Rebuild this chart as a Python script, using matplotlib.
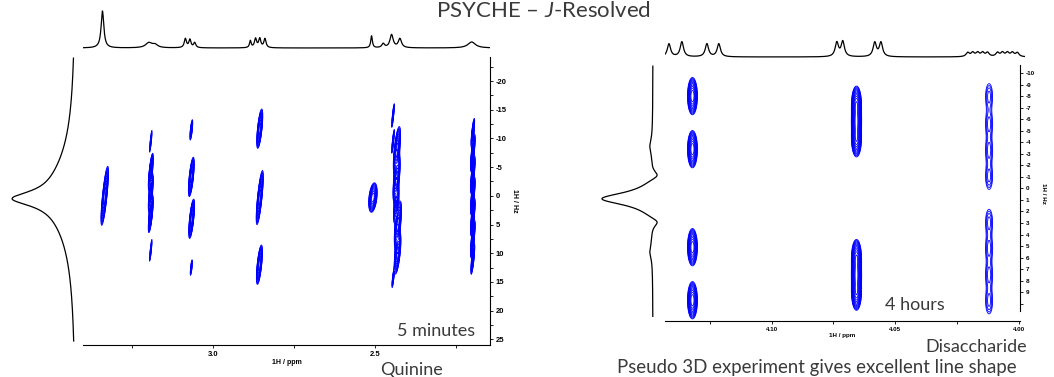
import numpy as np
import matplotlib.pyplot as plt
from matplotlib.ticker import MultipleLocator, FixedLocator, FormatStrFormatter

plt.rcParams['font.family'] = ['Lato', 'DejaVu Sans']
plt.rcParams['mathtext.fontset'] = 'custom'
plt.rcParams['mathtext.it'] = 'Lato:italic'
plt.rcParams['mathtext.rm'] = 'Lato'
plt.rcParams['axes.unicode_minus'] = False

# ---- quinine, 2D peaks (ppm, Hz, intensity, ppm sigma, Hz sigma)
q_ppm = [3.333, 3.191, 3.191, 3.191, 3.191, 3.191, 3.066, 3.066, 3.065, 3.066,
         2.855, 2.855, 2.856, 2.506, 2.444, 2.444, 2.432, 2.433, 2.434, 2.429,
         2.430, 2.444, 2.198, 2.198, 2.198, 2.198, 2.198, 2.198, 2.198]
q_hz = [0.0, -9.5, -4.2, -0.5, 3.2, 9.5, -11.5, -3.3, 4.0, 12.5,
        -11.7, 0.3, 12.0, 0.3, -14.0, -9.5, -8.0, -3.0, 1.5, 5.0,
        10.0, 14.5, -11.0, -7.5, -3.7, 0.0, 3.7, 7.5, 11.0]
q_amp = [1.0, 0.25, 1.0, 1.0, 1.0, 0.25, 0.3, 1.0, 1.0, 0.25,
         1.0, 1.0, 1.0, 1.0, 0.3, 0.3, 1.0, 1.0, 0.7, 1.0,
         1.0, 0.3, 0.4, 1.0, 1.0, 1.0, 1.0, 1.0, 0.5]
q_sppm = [0.0033, 0.0014, 0.0024, 0.0024, 0.0024, 0.0014, 0.0021, 0.0031, 0.0031, 0.0017,
          0.0033, 0.0033, 0.0033, 0.0058, 0.0014, 0.0014, 0.0040, 0.0040, 0.0032, 0.0040,
          0.0038, 0.0014, 0.0021, 0.0021, 0.0021, 0.0021, 0.0021, 0.0021, 0.0021]
q_shz = [2.4, 1.4, 1.5, 1.5, 1.5, 1.4, 1.2, 1.6, 1.6, 1.0,
         1.6, 2.2, 1.6, 1.2, 1.4, 1.4, 1.9, 1.9, 1.6, 1.9,
         1.7, 1.0, 1.5, 1.5, 1.5, 1.5, 1.5, 1.5, 1.5]
q_tilt = 0.0018

# quinine 1D projections (position, height, half width)
qtop_ppm = [3.340, 3.197, 3.178, 3.0844, 3.0704, 3.0556, 2.884, 2.868, 2.855, 2.839,
            2.5102, 2.4743, 2.4485, 2.4228, 2.2016]
qtop_h = [37, 5, 3, 9, 8, 5, 7, 9, 9, 9, 12, 4, 13, 9, 6]
qtop_w = [0.005, 0.012, 0.010, 0.004, 0.004, 0.004, 0.003, 0.004, 0.004, 0.004,
          0.003, 0.005, 0.006, 0.006, 0.014]
qside_hz = [0.5, 0.0]
qside_h = [40, 24]
qside_w = [1.5, 8.0]

# ---- disaccharide, 2D peaks
d_ppm = [4.132] * 4 + [4.0657] * 6 + [4.0121] * 8
d_hz = [-8.0, -3.4, 5.1, 9.7,
        -7.3, -5.8, -4.3, 6.0, 7.5, 9.0,
        -8.0, -5.6, -3.3, -1.0, 2.9, 5.2, 7.5, 9.8]
d_amp = [1.0] * 10 + [0.18] * 8
d_sppm = [0.0009] * 10 + [0.0011] * 8
d_shz = [0.72] * 4 + [0.7] * 6 + [0.85] * 8

dtop_ppm = [4.1415, 4.1363, 4.1262, 4.1214, 4.0738, 4.0714, 4.0585, 4.0560,
            4.021, 4.019, 4.017, 4.015, 4.013, 4.009, 4.007, 4.005, 4.003, 4.001]
dtop_h = [13, 15, 13, 13, 14, 15, 14, 14, 4, 4, 4, 4, 4, 4, 4, 4, 4, 4]
dtop_w = [0.0008] * 18
dside_hz = [0.9, -1.1, 2.9, -3.7, 5.5]
dside_h = [52, -9, -9, 2.5, 2.5]
dside_w = [0.65, 0.5, 0.5, 0.7, 0.7]


def lorentz(x, pos, h, w):
    y = np.zeros_like(x)
    for p, a, g in zip(pos, h, w):
        y += a / (1 + ((x - p) / g) ** 2)
    return y


def peaks2d(X, Y, ppm, hz, amp, sx, sy, tilt=0.0):
    Z = np.zeros_like(X)
    for p, h, a, wx, wy in zip(ppm, hz, amp, sx, sy):
        u = X - p - tilt * (Y - h)
        Z += a * np.exp(-0.5 * (u / wx) ** 2 - 0.5 * ((Y - h) / wy) ** 2)
    return Z


W, H = 1054, 377
fig = plt.figure(figsize=(W / 100, H / 100), dpi=100)


def box(x0, y0, x1, y1):
    return [x0 / W, 1 - y1 / H, (x1 - x0) / W, (y1 - y0) / H]


tick_font = {'family': 'Liberation Sans', 'weight': 'bold'}

# ================= quinine =================
ax = fig.add_axes(box(83, 57, 490, 345))
xq = np.linspace(3.40, 2.145, 2400)
yq = np.linspace(-24.2, 26, 800)
X, Y = np.meshgrid(xq, yq)
Z = peaks2d(X, Y, q_ppm, q_hz, q_amp, q_sppm, q_shz, q_tilt)
ax.contour(X, Y, Z, levels=np.geomspace(0.1, 1.0, 12), colors='#0000ff', linewidths=0.6)
ax.set_xlim(3.40, 2.145)
ax.set_ylim(26, -24.2)
ax.spines['top'].set_visible(False)
ax.spines['left'].set_visible(False)
ax.yaxis.tick_right()
ax.yaxis.set_label_position('right')
ax.xaxis.set_major_locator(FixedLocator([3.0, 2.5]))
ax.xaxis.set_minor_locator(MultipleLocator(0.25))
ax.xaxis.set_major_formatter(FormatStrFormatter('%.1f'))
ax.yaxis.set_major_locator(MultipleLocator(5))
ax.yaxis.set_minor_locator(MultipleLocator(2.5))
ax.tick_params(which='both', length=2, width=0.6, pad=2, labelsize=5.5)
for lab in ax.get_xticklabels() + ax.get_yticklabels():
    lab.set_fontfamily('Liberation Sans')
    lab.set_fontweight('bold')
ax.set_xlabel('1H / ppm', fontsize=5, labelpad=1, **tick_font)
ax.set_ylabel('1H / Hz', fontsize=5, rotation=270, labelpad=8, **tick_font)

axt = fig.add_axes(box(83, 8, 490, 52))
axt.plot(xq, lorentz(xq, qtop_ppm, qtop_h, qtop_w), color='black', lw=0.9)
axt.set_xlim(3.40, 2.145)
axt.set_ylim(-4, 40)
axt.axis('off')

axs = fig.add_axes(box(8, 57, 80, 345))
ys = np.linspace(-24, 25.3, 800)
axs.plot(lorentz(ys, qside_hz, qside_h, qside_w), ys, color='black', lw=0.9)
axs.set_xlim(68, -4)
axs.set_ylim(26, -24.2)
axs.axis('off')

# ================= disaccharide =================
ax2 = fig.add_axes(box(665, 65, 1020, 321))
xd = np.linspace(4.1431, 3.9996, 1500)
yd = np.linspace(-10.7, 11.5, 700)
X2, Y2 = np.meshgrid(xd, yd)
Z2 = peaks2d(X2, Y2, d_ppm, d_hz, d_amp, d_sppm, d_shz)
ax2.contour(X2, Y2, Z2, levels=np.geomspace(0.08, 1.0, 12), colors='#0000ff', linewidths=0.6)
ax2.set_xlim(4.1431, 3.9996)
ax2.set_ylim(11.5, -10.7)
ax2.spines['top'].set_visible(False)
ax2.spines['left'].set_visible(False)
ax2.spines['right'].set_bounds(-10.66, 10.6)
ax2.yaxis.tick_right()
ax2.yaxis.set_label_position('right')
ax2.xaxis.set_major_locator(FixedLocator([4.10, 4.05, 4.00]))
ax2.xaxis.set_minor_locator(MultipleLocator(0.025))
ax2.xaxis.set_major_formatter(FormatStrFormatter('%.2f'))
ax2.yaxis.set_major_locator(FixedLocator(list(range(-10, 11))))
ax2.yaxis.set_major_formatter(lambda v, pos: '' if v > 9.5 else '%d' % v)
ax2.tick_params(which='both', length=2, width=0.6, pad=2, labelsize=4.5)
for lab in ax2.get_xticklabels() + ax2.get_yticklabels():
    lab.set_fontfamily('Liberation Sans')
    lab.set_fontweight('bold')
ax2.set_xlabel('1H / ppm', fontsize=4.5, labelpad=1, **tick_font)
ax2.set_ylabel('1H / Hz', fontsize=4.5, rotation=270, labelpad=8, **tick_font)

axt2 = fig.add_axes(box(665, 30, 1025, 60))
xt2 = np.linspace(4.1431, 3.9979, 1500)
axt2.plot(xt2, lorentz(xt2, dtop_ppm, dtop_h, dtop_w), color='black', lw=0.9)
axt2.set_xlim(4.1431, 3.9979)
axt2.set_ylim(-3, 27)
axt2.axis('off')

axs2 = fig.add_axes(box(596, 65, 660, 321))
ys2 = np.linspace(-10.6, 11.1, 600)
axs2.plot(lorentz(ys2, dside_hz, dside_h, dside_w), ys2, color='black', lw=0.9)
axs2.set_xlim(57, -7)
axs2.set_ylim(11.5, -10.7)
axs2.axis('off')

# ================= text =================
tc = '#3a3a3a'
fig.text(543 / W, 1 - 17 / H, 'PSYCHE – $\\it{J}$-Resolved', ha='center', va='baseline',
         fontsize=16, color=tc)
fig.text(475 / W, 1 - 336 / H, '5 minutes', ha='right', va='baseline', fontsize=13, color=tc)
fig.text(380 / W, 1 - 375 / H, 'Quinine', ha='left', va='baseline', fontsize=13, color=tc)
fig.text(885 / W, 1 - 310 / H, '4 hours', ha='left', va='baseline', fontsize=13, color=tc)
fig.text(1027 / W, 1 - 352 / H, 'Disaccharide', ha='right', va='baseline', fontsize=13, color=tc)
fig.text(617 / W, 1 - 373 / H, 'Pseudo 3D experiment gives excellent line shape', ha='left',
         va='baseline', fontsize=13.4, color=tc)

fig.savefig('out.png', dpi=100)
